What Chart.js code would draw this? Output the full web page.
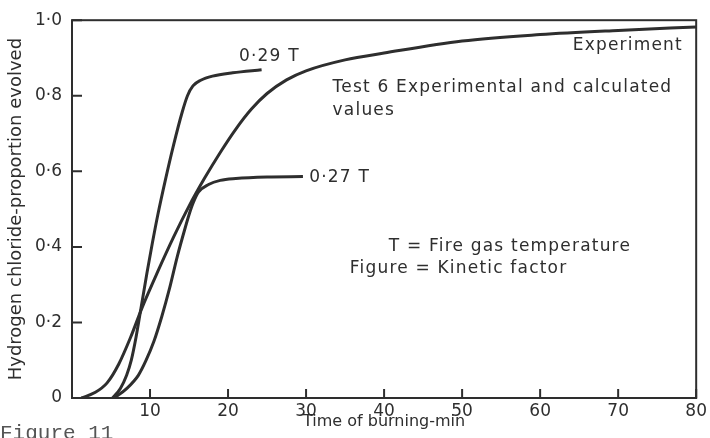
<!DOCTYPE html>
<html>
<head>
<meta charset="utf-8">
<script src="https://cdn.jsdelivr.net/npm/chart.js@4.4.1/dist/chart.umd.min.js"></script>
<style>
  html, body { margin: 0; padding: 0; background: #fff; }
  #wrap { width: 710px; height: 438px; }
</style>
</head>
<body>
<div id="wrap"><canvas id="chart" width="710" height="438"></canvas></div>
<script>
// values (time in min, proportion evolved)
const expTime = [1.2, 3, 4.5, 6, 7.5, 9, 11, 13, 15, 17, 19, 21, 23, 25, 27.5, 30, 35, 40, 50, 60, 70, 80]
const expValue = [0, 0.015, 0.04, 0.09, 0.16, 0.24, 0.335, 0.425, 0.508, 0.582, 0.65, 0.712, 0.765, 0.806, 0.842, 0.866, 0.895, 0.913, 0.945, 0.962, 0.973, 0.982]

const k29Time = [5.2, 6.2, 7.0, 7.6, 8.2, 8.9, 9.6, 10.3, 11.0, 12.0, 13.0, 14.1, 14.8, 15.5, 16.5, 18, 20.6, 24.3]
const k29Value = [0, 0.025, 0.06, 0.1, 0.16, 0.245, 0.33, 0.41, 0.485, 0.58, 0.668, 0.755, 0.8, 0.826, 0.841, 0.852, 0.861, 0.869]

const k27Time = [5.4, 7, 8.5, 9.5, 10.5, 11.5, 12.5, 13.5, 14.5, 15.0, 15.5, 16.2, 17.5, 19, 21, 25, 29.6]
const k27Value = [0, 0.025, 0.06, 0.1, 0.15, 0.215, 0.29, 0.375, 0.45, 0.485, 0.515, 0.545, 0.565, 0.576, 0.581, 0.585, 0.586]

const xTicks = [0, 10, 20, 30, 40, 50, 60, 70, 80]
const yTicks = [0, 0.2, 0.4, 0.6, 0.8, 1.0]

const ink = "#2e2e2e"
const font = "'DejaVu Sans', sans-serif"

// text written on the plot, placed in data units
const notes = [
  { text: "0·29 T", x: 21.4, y: 0.903, align: "left" },
  { text: "0·27 T", x: 30.4, y: 0.584, align: "left" },
  { text: "Experiment", x: 78.3, y: 0.932, align: "right" },
  { text: "Test 6 Experimental and calculated", x: 33.4, y: 0.822, align: "left" },
  { text: "values", x: 33.4, y: 0.762, align: "left" },
  { text: "T = Fire gas temperature", x: 40.6, y: 0.4, align: "left" },
  { text: "Figure = Kinetic factor", x: 35.6, y: 0.342, align: "left" },
]

const toPoints = (xs, ys) => xs.map((t, i) => ({ x: t, y: ys[i] }))

const curve = (label, xs, ys) => ({
  label,
  data: toPoints(xs, ys),
  borderColor: ink,
  borderWidth: 3,
  pointRadius: 0,
  fill: false,
  cubicInterpolationMode: "monotone",
})

const decor = {
  id: "decor",
  afterDatasetsDraw(chart) {
    const { ctx, chartArea: a, scales: { x, y } } = chart
    ctx.save()
    ctx.strokeStyle = ink
    ctx.lineWidth = 2
    ctx.strokeRect(a.left, a.top, a.right - a.left, a.bottom - a.top)

    // ticks point into the plot
    ctx.beginPath()
    xTicks.forEach((v) => {
      const px = x.getPixelForValue(v)
      ctx.moveTo(px, a.bottom)
      ctx.lineTo(px, a.bottom - 9)
    })
    yTicks.forEach((v) => {
      const py = y.getPixelForValue(v)
      ctx.moveTo(a.left, py)
      ctx.lineTo(a.left + 10, py)
    })
    ctx.stroke()

    ctx.fillStyle = ink
    ctx.font = "17px " + font
    ctx.letterSpacing = "1.2px"
    ctx.textBaseline = "middle"
    notes.forEach((n) => {
      ctx.textAlign = n.align
      ctx.fillText(n.text, x.getPixelForValue(n.x), y.getPixelForValue(n.y))
    })

    // caption cut off at the bottom of the scan
    ctx.letterSpacing = "0px"
    ctx.fillStyle = "#555"
    ctx.font = "21px 'Liberation Mono', monospace"
    ctx.textAlign = "left"
    ctx.textBaseline = "top"
    ctx.fillText("Figure 11", 0, 423)
    ctx.restore()
  },
}

new Chart(document.getElementById("chart"), {
  type: "line",
  data: {
    datasets: [
      curve("Experiment", expTime, expValue),
      curve("0·29 T", k29Time, k29Value),
      curve("0·27 T", k27Time, k27Value),
    ],
  },
  options: {
    responsive: false,
    animation: false,
    layout: { padding: { left: 0, right: 13, top: 16, bottom: 0 } },
    plugins: {
      legend: { display: false },
      tooltip: { enabled: false },
    },
    scales: {
      x: {
        type: "linear",
        min: 0,
        max: 80,
        afterFit: (s) => { s.height = 40 },
        afterBuildTicks: (s) => { s.ticks = xTicks.map((v) => ({ value: v })) },
        grid: { display: false, drawTicks: false },
        border: { display: false },
        ticks: {
          color: ink,
          padding: 3,
          font: { family: font, size: 17 },
          callback: (v) => (v === 0 ? "" : String(v)),
        },
        title: {
          display: true,
          text: "Time of burning-min",
          color: ink,
          font: { family: font, size: 16 },
          padding: { top: 0, bottom: 7 },
        },
      },
      y: {
        min: 0,
        max: 1,
        afterFit: (s) => { s.width = 72 },
        afterBuildTicks: (s) => { s.ticks = yTicks.map((v) => ({ value: v })) },
        grid: { display: false, drawTicks: false },
        border: { display: false },
        ticks: {
          color: ink,
          padding: 10,
          font: { family: font, size: 17 },
          callback: (v) => (v === 0 ? "0" : v.toFixed(1).replace(".", "·")),
        },
        title: {
          display: true,
          text: "Hydrogen chloride-proportion evolved",
          color: ink,
          font: { family: font, size: 18 },
          padding: { top: 6, bottom: 0 },
        },
      },
    },
  },
  plugins: [decor],
})
</script>
</body>
</html>
